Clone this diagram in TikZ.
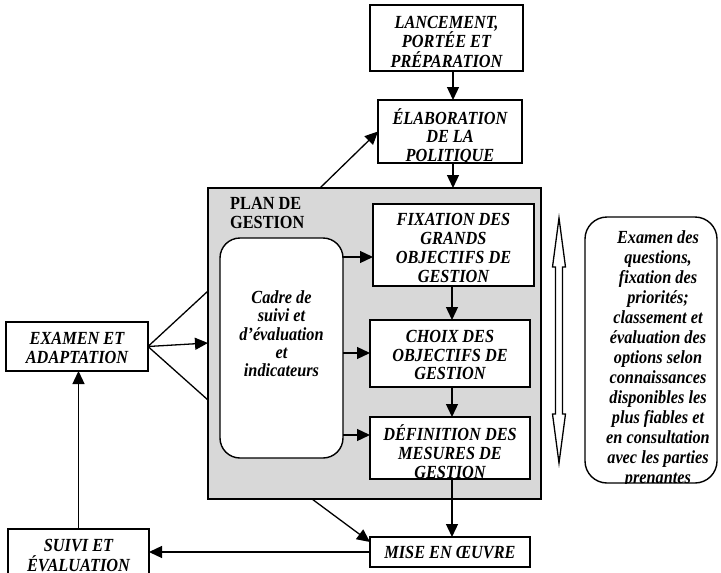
\documentclass[tikz,border=0pt]{standalone}
\usepackage{fontspec}
\setmainfont{Liberation Serif}[FakeStretch=0.88]
\usetikzlibrary{arrows.meta}
\definecolor{plangray}{RGB}{216,216,216}
\newcommand\tstrut{\rule{0pt}{15pt}}
% text placed inside a box, clipped to the box outline
% [clip options]{box}{text node}{drop below top}{node style}{text}
\newcommand\inbox[6][]{%
  \begin{scope}
    \clip[#1] (#2.north west) rectangle (#2.south east);
    \node[#5] (#3) at ([yshift=-#4]#2.north) {\tstrut #6};
  \end{scope}}

\begin{document}
\begin{tikzpicture}[x=1pt,y=-1pt,
  box/.style={draw, line width=1.4pt, fill=white, inner sep=0pt, outer sep=0pt, anchor=north west},
  pitch/.style={font=\fontsize{18.5}{#1}\selectfont\bfseries\itshape},
  lbl/.style={inner sep=0pt, anchor=north, align=center, pitch=19},
  notelbl/.style={lbl, xshift=7pt, pitch=20},
  arr/.style={line width=1.3pt, -{Triangle[length=13pt,width=12pt]}},
  link/.style={line width=1.3pt}
]
\clip (0,0) rectangle (721,573);

% outer gray panel of the management plan
\node[box, fill=plangray, minimum width=333pt, minimum height=311pt] (plan) at (208,188) {};
\node[lbl, anchor=north west, align=left, font=\fontsize{18.5}{19}\selectfont\bfseries]
  (plan-t) at (230,194) {\tstrut PLAN DE\\GESTION};

% process boxes
\node[box, minimum width=153pt, minimum height=66pt] (lanc) at (370,5) {};
\node[box, minimum width=144pt, minimum height=63pt] (elab) at (378,100) {};
\node[box, rounded corners=20pt, minimum width=123pt, minimum height=220pt] (cadre) at (220,238) {};
\node[box, minimum width=161pt, minimum height=82pt] (fix) at (373,204) {};
\node[box, minimum width=160pt, minimum height=67pt] (choix) at (370,320) {};
\node[box, minimum width=160pt, minimum height=62pt] (def) at (370,417) {};
\node[box, minimum width=160pt, minimum height=30pt] (mise) at (370,537) {};
\node[box, minimum width=142pt, minimum height=49pt] (exam) at (6,322) {};
\node[box, minimum width=141pt, minimum height=60pt] (suivi) at (8,529) {};
\node[box, rounded corners=22pt, minimum width=132pt, minimum height=266pt] (note) at (585,217) {};

% box texts
\inbox{lanc}{lanc-t}{8pt}{lbl, pitch=19.5}{LANCEMENT,\\PORTÉE ET\\PRÉPARATION}
\inbox{elab}{elab-t}{8pt}{lbl, pitch=18.5}{ÉLABORATION\\DE LA\\POLITIQUE}
\inbox[rounded corners=20pt]{cadre}{cadre-t}{50pt}{lbl, pitch=18.4}{Cadre de\\suivi et\\d’évaluation\\et\\indicateurs}
\inbox{fix}{fix-t}{6.5pt}{lbl}{FIXATION DES\\GRANDS\\OBJECTIFS DE\\GESTION}
\inbox{choix}{choix-t}{7.5pt}{lbl, pitch=18.3}{CHOIX DES\\OBJECTIFS DE\\GESTION}
\inbox{def}{def-t}{7pt}{lbl}{DÉFINITION DES\\MESURES DE\\GESTION}
\inbox{mise}{mise-t}{6pt}{lbl}{MISE EN ŒUVRE}
\inbox{exam}{exam-t}{7pt}{lbl}{EXAMEN ET\\ADAPTATION}
\inbox{suivi}{suivi-t}{7pt}{lbl, pitch=20}{SUIVI ET\\ÉVALUATION}
\inbox[rounded corners=22pt]{note}{note-t}{11pt}{notelbl}{Examen des\\questions,\\fixation des\\priorités;\\classement et\\évaluation des\\options selon\\connaissances\\disponibles les\\plus fiables et\\en consultation\\avec les parties\\prenantes}

% hollow two-way arrow beside the plan
\draw[line width=1.3pt, fill=white]
  (559,218) -- (565.5,267) -- (562.5,267) -- (562.5,414) -- (565.5,414) -- (559,463)
  -- (552.5,414) -- (555.5,414) -- (555.5,267) -- (552.5,267) -- cycle;

% helper points on box edges
\path (cadre.north east) ++(0,19) coordinate (cf);
\path (cadre.north east) ++(0,115) coordinate (cc);
\path (cadre.north east) ++(0,197) coordinate (cd);
\path (plan.north west) ++(0,103) coordinate (p1);
\path (plan.north west) ++(0,155) coordinate (p2);
\path (plan.north west) ++(0,212) coordinate (p3);
\path (mise.north west) ++(0,5) coordinate (mtip);

% connectors
\draw[arr] ([xshift=6.5pt]lanc.south) -- ([xshift=3pt]elab.north);
\draw[arr] ([xshift=3pt]elab.south) -- ([xshift=3pt]elab.south |- plan.north);
\draw[arr] ([xshift=-54.5pt]plan.north) -- (elab.west);
\draw[arr] (cf) -- (cf -| fix.west);
\draw[arr] (cc) -- (cc -| choix.west);
\draw[arr] (cd) -- (cd -| def.west);
\draw[arr] ([xshift=-1.5pt]fix.south) -- ([xshift=2pt]choix.north);
\draw[arr] ([xshift=2pt]choix.south) -- ([xshift=2pt]def.north);
\draw[arr] ([xshift=2pt]def.south) -- ([xshift=2pt]mise.north);
\draw[arr] ([xshift=-62.5pt]plan.south) -- (mtip);
\draw[arr] (mise.west) -- (mise.west -| suivi.east);
\draw[arr] (suivi.north) -- (suivi.north |- exam.south);
\draw[link] (exam.east) -- (p1);
\draw[arr] (exam.east) -- (p2);
\draw[link] (exam.east) -- (p3);
\end{tikzpicture}
\end{document}
